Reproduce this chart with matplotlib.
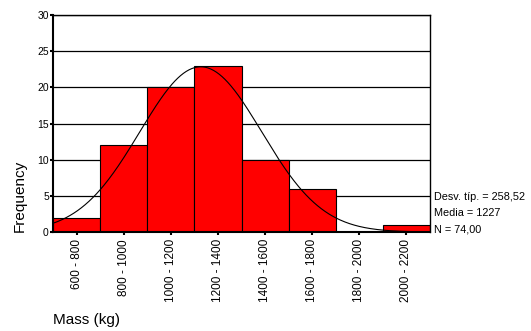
import numpy as np
import matplotlib
matplotlib.use("Agg")
import matplotlib.pyplot as plt

bin_labels = ["600 - 800", "800 - 1000", "1000 - 1200", "1200 - 1400",
              "1400 - 1600", "1600 - 1800", "1800 - 2000", "2000 - 2200"]
bin_left = [600, 800, 1000, 1200, 1400, 1600, 1800, 2000]
counts = [2, 12, 20, 23, 10, 6, 0, 1]
bin_width = 200
std_dev = 258.52
mean = 1227
n = 74

plt.rcParams['font.family'] = ['Liberation Sans', 'DejaVu Sans']

fig = plt.figure(figsize=(5.31, 3.31), dpi=100)
ax = fig.add_axes([53/531, 1-232/331, (430-53)/531, (232-15)/331])

for y in range(5, 31, 5):
    ax.axhline(y, color='black', lw=0.9, zorder=0)

ax.bar(bin_left, counts, width=bin_width, align='edge', color='#ff0000',
       edgecolor='black', linewidth=0.8, zorder=2)

xs = np.linspace(600, 2200, 400)
ys = n * bin_width / (std_dev * np.sqrt(2*np.pi)) * np.exp(-0.5*((xs-mean)/std_dev)**2)
ax.plot(xs, ys, color='black', lw=0.8, zorder=3)

ax.set_xlim(600, 2200)
ax.set_ylim(0, 30)
ax.set_yticks(range(0, 31, 5))
ax.set_xticks([l + bin_width/2 for l in bin_left])
ax.set_xticklabels(bin_labels, rotation=90, fontsize=8.5)
ax.tick_params(axis='y', labelsize=7.5, length=2, width=1.5, pad=1)
ax.tick_params(axis='x', length=2, width=1.5, pad=3)
for s in ax.spines.values():
    s.set_linewidth(1.0)
    s.set_color('black')
ax.spines['left'].set_linewidth(1.5)
ax.spines['bottom'].set_linewidth(1.5)

fig.text(434/531, 1-197/331, "Desv. típ. = 258,52", fontsize=7.8, va='center')
fig.text(434/531, 1-213/331, "Media = 1227", fontsize=7.8, va='center')
fig.text(434/531, 1-230/331, "N = 74,00", fontsize=7.8, va='center')

fig.text(20/531, 1-232/331, "Frequency", fontsize=11, rotation=90, ha='center', va='bottom')
fig.text(53/531, 1-320/331, "Mass (kg)", fontsize=11, ha='left', va='center')

fig.savefig("out.png", dpi=100)
